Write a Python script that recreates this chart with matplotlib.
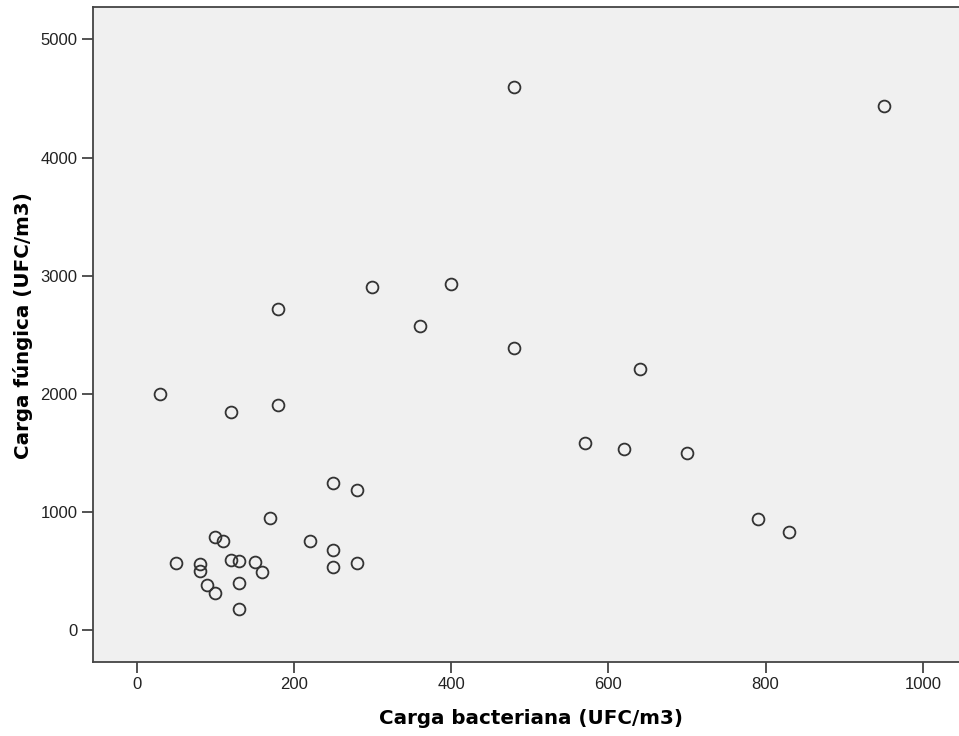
import matplotlib
matplotlib.use('Agg')
import matplotlib.pyplot as plt

plt.rcParams['font.family'] = ['Liberation Sans', 'DejaVu Sans']

bact = [30, 50, 80, 80, 90, 100, 110, 100, 120, 120, 130, 130, 130, 150, 160,
        170, 180, 180, 220, 250, 250, 250, 280, 280, 300, 360, 400, 480, 480,
        570, 620, 640, 700, 790, 830, 950]
fung = [2000, 565, 560, 500, 378, 790, 755, 310, 1843, 592, 587, 398, 180, 578, 488,
        948, 2721, 1905, 756, 1245, 677, 536, 1185, 570, 2902, 2572, 2930, 4600, 2391,
        1583, 1535, 2213, 1496, 937, 827, 4434]

fig = plt.figure(figsize=(9.59, 7.36), dpi=100)
ax = fig.add_axes([93/959, 1-662/736, 1-93/959, (662-7)/736])
ax.set_facecolor('#f0f0f0')

ax.plot(bact, fung, linestyle='none', marker='o', markersize=8.5,
        markerfacecolor='none', markeredgecolor='#333333', markeredgewidth=1.3)

ax.set_xlim(-55.5, 1046)
ax.set_ylim(-271, 5275)
ax.set_xticks([0, 200, 400, 600, 800, 1000])
ax.set_yticks([0, 1000, 2000, 3000, 4000, 5000])

for s in ['left', 'bottom', 'top']:
    ax.spines[s].set_color('#444444')
    ax.spines[s].set_linewidth(1.3)
ax.spines['right'].set_visible(False)
ax.tick_params(direction='out', length=8, width=1.3, color='#444444',
               labelsize=12, labelcolor='#222222', pad=3)

ax.set_xlabel('Carga bacteriana (UFC/m3)', fontsize=14.3, fontweight='bold',
              family='DejaVu Sans')
ax.set_ylabel('Carga fúngica (UFC/m3)', fontsize=14.3, fontweight='bold',
              family='DejaVu Sans')
ax.xaxis.set_label_coords(0.506, -0.071)
ax.yaxis.set_label_coords(-0.069, 0.513)

fig.savefig('out.png', dpi=100)
